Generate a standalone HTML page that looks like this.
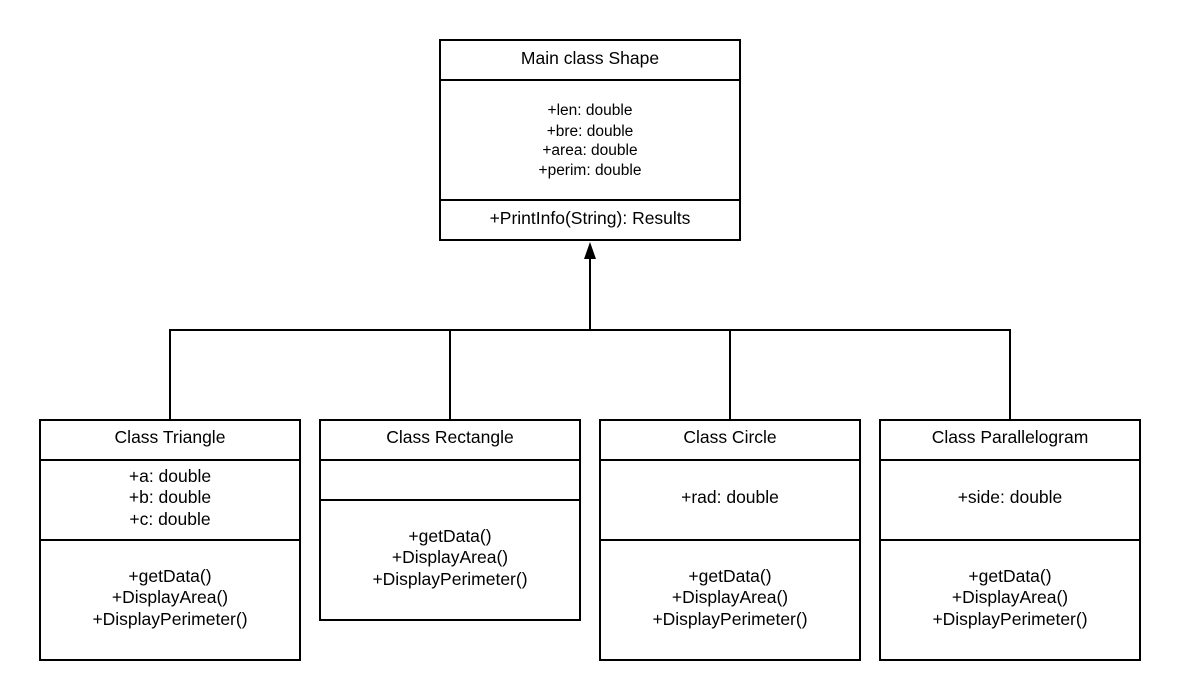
<!DOCTYPE html>
<html><head><style>body{margin:0;background:#fff}svg{display:block}text{font-family:"Liberation Sans",sans-serif;fill:#000}</style></head>
<body>
<svg width="1180" height="700" viewBox="0 0 1180 700">
<g fill="none" stroke="#000" stroke-width="2">
<rect x="440" y="40" width="300" height="200"/>
<line x1="440" y1="80" x2="740" y2="80"/>
<line x1="440" y1="200" x2="740" y2="200"/>
<rect x="40" y="420" width="260" height="240"/>
<line x1="40" y1="460" x2="300" y2="460"/>
<line x1="40" y1="540" x2="300" y2="540"/>
<rect x="320" y="420" width="260" height="200"/>
<line x1="320" y1="460" x2="580" y2="460"/>
<line x1="320" y1="500" x2="580" y2="500"/>
<rect x="600" y="420" width="260" height="240"/>
<line x1="600" y1="460" x2="860" y2="460"/>
<line x1="600" y1="540" x2="860" y2="540"/>
<rect x="880" y="420" width="260" height="240"/>
<line x1="880" y1="460" x2="1140" y2="460"/>
<line x1="880" y1="540" x2="1140" y2="540"/>
<line x1="590" y1="256" x2="590" y2="330"/>
<polyline points="170,420 170,330 1010,330 1010,420"/>
<line x1="450" y1="330" x2="450" y2="420"/>
<line x1="730" y1="330" x2="730" y2="420"/>
</g>
<polygon points="590,242 584,259 596,259" fill="#000"/>
<g text-anchor="middle" font-size="17.5">
<text x="590" y="64">Main class Shape</text>
<text x="590" y="115" font-size="15.5">+len: double</text>
<text x="590" y="136" font-size="15.5">+bre: double</text>
<text x="590" y="155" font-size="15.5">+area: double</text>
<text x="590" y="175" font-size="15.5">+perim: double</text>
<text x="590" y="224">+PrintInfo(String): Results</text>
<text x="170" y="443">Class Triangle</text>
<text x="170" y="482">+a: double</text>
<text x="170" y="503">+b: double</text>
<text x="170" y="525">+c: double</text>
<text x="170" y="582">+getData()</text>
<text x="170" y="603">+DisplayArea()</text>
<text x="170" y="625">+DisplayPerimeter()</text>
<text x="450" y="443">Class Rectangle</text>
<text x="450" y="542">+getData()</text>
<text x="450" y="563">+DisplayArea()</text>
<text x="450" y="585">+DisplayPerimeter()</text>
<text x="730" y="443">Class Circle</text>
<text x="730" y="503">+rad: double</text>
<text x="730" y="582">+getData()</text>
<text x="730" y="603">+DisplayArea()</text>
<text x="730" y="625">+DisplayPerimeter()</text>
<text x="1010" y="443">Class Parallelogram</text>
<text x="1010" y="503">+side: double</text>
<text x="1010" y="582">+getData()</text>
<text x="1010" y="603">+DisplayArea()</text>
<text x="1010" y="625">+DisplayPerimeter()</text>
</g>
</svg>
</body></html>
